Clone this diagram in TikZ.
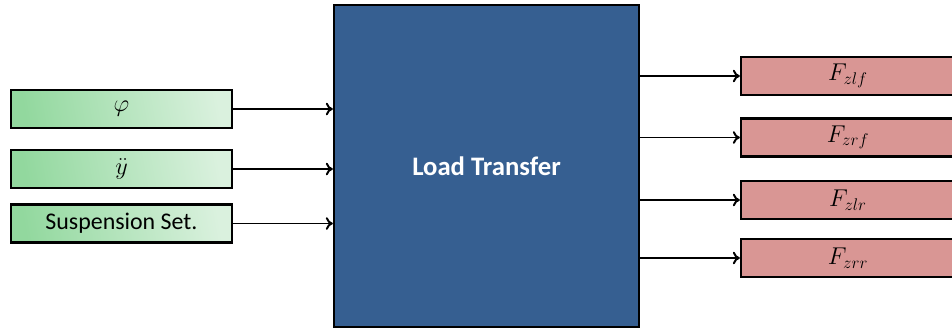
\documentclass[tikz,border=0pt]{standalone}
\usepackage{fontspec}
\setmainfont{Carlito}
\usetikzlibrary{arrows.meta}

\definecolor{ltblue}{RGB}{54,95,145}
\definecolor{ltred}{RGB}{217,150,148}
\definecolor{ingreenA}{RGB}{146,216,158}
\definecolor{ingreenB}{RGB}{218,241,222}

\begin{document}
\begin{tikzpicture}[
  x=0.025cm, y=-0.025cm,
  inbox/.style={rectangle, draw=black, line width=1.6pt, left color=ingreenA, right color=ingreenB, shading angle=100,
    minimum width=5.525cm, minimum height=0.95cm, inner sep=0pt, font=\fontsize{17}{20}\selectfont},
  outbox/.style={rectangle, draw=black, line width=1.6pt, fill=ltred,
    minimum width=5.35cm, minimum height=0.95cm, inner sep=0pt, font=\fontsize{17}{20}\selectfont},
  flow/.style={-{To[length=5pt,width=9pt]}, line width=1.4pt}
]
  \useasboundingbox (0,0) rectangle (952,332);

  % Bloque central
  \node[rectangle, draw=black, line width=1.6pt, fill=ltblue, minimum width=7.625cm, minimum height=8.05cm,
    text=white, font=\fontsize{19}{23}\selectfont\bfseries] (load) at (486.5,166) {Load Transfer};

  % Entradas (lado izquierdo)
  \node[inbox] (phi) at (121.5,109) {$\varphi$};
  \node[inbox] (ydd) at (121.5,169) {$\ddot{y}$};
  \node[inbox] (susp) at (121.5,223.5) {Suspension Set.};

  % Salidas (lado derecho)
  \node[outbox] (fzlf) at (848,76) {$F_{zlf}$};
  \node[outbox] (fzrf) at (848,137.5) {$F_{zrf}$};
  \node[outbox] (fzlr) at (848,200) {$F_{zlr}$};
  \node[outbox] (fzrr) at (848,258) {$F_{zrr}$};

  % Flechas de entrada
  \draw[flow] (phi) -- (load.west |- phi);
  \draw[flow] (ydd) -- (load.west |- ydd);
  \draw[flow] (susp) -- (load.west |- susp);

  % Flechas de salida
  \draw[flow] (load.east |- fzlf) -- (fzlf);
  \draw[flow] (load.east |- fzrf) -- (fzrf);
  \draw[flow] (load.east |- fzlr) -- (fzlr);
  \draw[flow] (load.east |- fzrr) -- (fzrr);

\end{tikzpicture}
\end{document}
